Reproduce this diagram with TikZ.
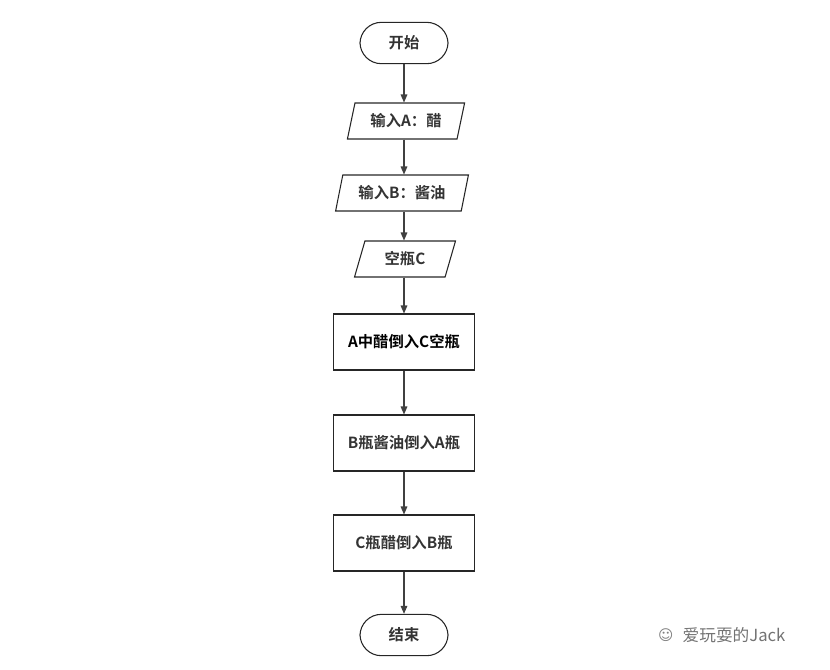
\documentclass[tikz,border=0pt]{standalone}
\usepackage{fontspec}
\setmainfont{Noto Sans CJK SC}[BoldFont={Noto Sans CJK SC Bold}]
\usetikzlibrary{shapes.geometric,arrows.meta}
\begin{document}
\begin{tikzpicture}[x=0.75pt,y=-0.75pt,
  base/.style={draw=black!85,line width=0.8pt,font=\bfseries\fontsize{11.5}{13}\selectfont,text=black!80,inner sep=0pt},
  term/.style={base,rounded corners=16pt,minimum width=66pt,minimum height=31pt},
  io/.style={base,trapezium,trapezium left angle=70,trapezium right angle=110,trapezium stretches,minimum height=27pt},
  proc/.style={base,rectangle,minimum width=106pt,minimum height=42pt},
  arr/.style={-{Triangle[length=6pt,width=5pt]},draw=black!75,line width=0.8pt}]
\useasboundingbox (0,0) rectangle (830,669);
\node[term] (s) at (404,43) {开始};
\node[io,minimum width=88pt] (a) at (406,121) {输入A：醋};
\node[io,minimum width=100pt] (b) at (402,193) {输入B：酱油};
\node[io,minimum width=76pt] (c) at (405,259) {空瓶C};
\node[proc,text=black] (p1) at (404,342) {A中醋倒入C空瓶};
\node[proc] (p2) at (404,443) {B瓶酱油倒入A瓶};
\node[proc] (p3) at (404,543) {C瓶醋倒入B瓶};
\node[term] (e) at (404,635) {结束};
\foreach \u/\v in {s/a,a/b,b/c,c/p1,p1/p2,p2/p3,p3/e}
  \draw[arr] (\u.south -| s) -- (\v.north -| s);
\node[font=\fontsize{12.5}{14}\selectfont,text=black!55,anchor=west] (w) at (678,635) {爱玩耍的Jack};
\node[text=black!50,font=\fontsize{11}{12}\selectfont,anchor=east] (wi) at (w.west) {\fontspec{DejaVu Sans}☺};
\end{tikzpicture}
\end{document}
